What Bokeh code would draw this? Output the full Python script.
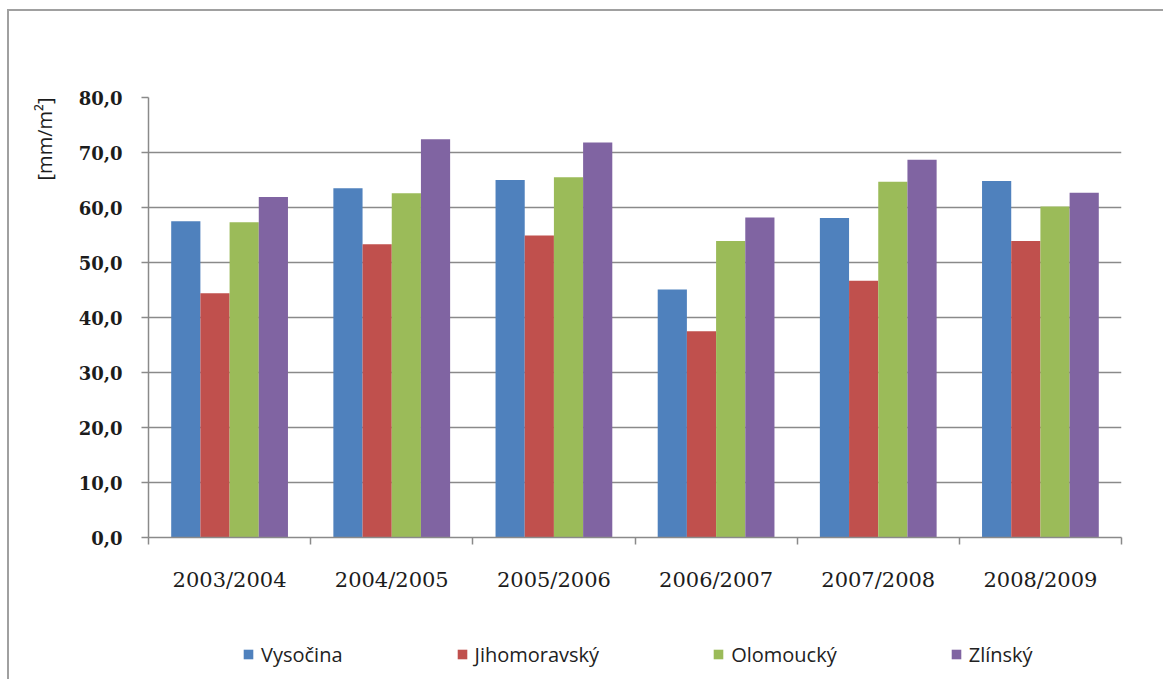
import numpy as np
from bokeh.plotting import figure
from bokeh.layouts import column
from bokeh.models import Range1d, FixedTicker, Legend, LegendItem, Title
from bokeh.embed import file_html
from bokeh.resources import INLINE

# Seasons and values per region [mm/m2]
seasons = ["2003/2004", "2004/2005", "2005/2006", "2006/2007", "2007/2008", "2008/2009"]
vysocina = [57.5, 63.5, 65.0, 45.1, 58.1, 64.8]
jihomoravsky = [44.4, 53.3, 54.9, 37.5, 46.7, 53.9]
olomoucky = [57.3, 62.6, 65.5, 53.9, 64.7, 60.2]
zlinsky = [61.9, 72.4, 71.8, 58.2, 68.7, 62.7]

series_names = ["Vysočina", "Jihomoravský", "Olomoucký", "Zlínský"]
series_values = [vysocina, jihomoravsky, olomoucky, zlinsky]
series_colors = ["#4F81BD", "#C0504D", "#9BBB59", "#8064A2"]

y_ticks = [0, 10, 20, 30, 40, 50, 60, 70, 80]
y_tick_labels = ["0,0", "10,0", "20,0", "30,0", "40,0", "50,0", "60,0", "70,0", "80,0"]
y_title = "[mm/m²]"

GRID = "#8a8a8a"
TEXT = "#1c1c1c"
BAR_W = 0.18

p = figure(
    width=1154, height=628,
    x_range=Range1d(0, len(seasons)), y_range=Range1d(0, 80),
    output_backend="svg", toolbar_location=None,
    min_border_left=139, min_border_right=42,
    min_border_top=86, min_border_bottom=102,
)
p.outline_line_color = None
p.background_fill_color = "white"
p.border_fill_color = "white"

# grouped bars
idx = np.arange(len(seasons))
for k, (vals, col) in enumerate(zip(series_values, series_colors)):
    xs = idx + 0.5 + (k - 1.5) * BAR_W
    p.vbar(x=xs, top=vals, width=BAR_W, bottom=0, fill_color=col, line_color=None)

# y axis
p.yaxis.ticker = FixedTicker(ticks=y_ticks)
p.yaxis.major_label_overrides = {t: s for t, s in zip(y_ticks, y_tick_labels)}
p.yaxis.minor_tick_line_color = None
p.yaxis.major_tick_in = 0
p.yaxis.major_tick_out = 7
p.yaxis.major_tick_line_color = GRID
p.yaxis.major_tick_line_width = 1.5
p.yaxis.axis_line_color = GRID
p.yaxis.axis_line_width = 1.5
p.yaxis.major_label_text_font = "DejaVu Serif"
p.yaxis.major_label_text_font_style = "bold"
p.yaxis.major_label_text_font_size = "18px"
p.yaxis.major_label_text_color = TEXT
p.yaxis.major_label_standoff = 19

# x axis: labels at group centres, tick marks at group boundaries
centres = [i + 0.5 for i in range(len(seasons))]
bounds = list(range(len(seasons) + 1))
p.xaxis.ticker = FixedTicker(ticks=centres, minor_ticks=bounds)
p.xaxis.major_label_overrides = {c: s for c, s in zip(centres, seasons)}
p.xaxis.major_tick_line_color = None
p.xaxis.major_tick_out = 0
p.xaxis.major_tick_in = 0
p.xaxis.minor_tick_in = 0
p.xaxis.minor_tick_out = 7
p.xaxis.minor_tick_line_color = GRID
p.xaxis.minor_tick_line_width = 1.5
p.xaxis.axis_line_color = GRID
p.xaxis.axis_line_width = 1.5
p.xaxis.major_label_text_font = "DejaVu Serif"
p.xaxis.major_label_text_font_size = "21px"
p.xaxis.major_label_text_color = TEXT
p.xaxis.major_label_standoff = 23

p.xgrid.grid_line_color = None
p.ygrid.grid_line_color = GRID
p.ygrid.grid_line_width = 1.5

# rotated unit label at the top of the value axis
p.add_layout(Title(
    text=y_title, align="right", standoff=35,
    text_font="Open Sans", text_font_size="20px",
    text_font_style="normal", text_color=TEXT,
), "left")

# legend strip underneath the chart; its renderers reuse the bar data
# but are hidden, so only the legend entries show
lg = figure(
    width=1154, height=40,
    x_range=Range1d(0, len(seasons)), y_range=Range1d(-2, -1),
    output_backend="svg", toolbar_location=None,
    x_axis_location=None, y_axis_location=None,
    min_border=0,
)
lg.outline_line_color = None
lg.grid.visible = False
items = []
for k, (name, vals, col) in enumerate(zip(series_names, series_values, series_colors)):
    xs = idx + 0.5 + (k - 1.5) * BAR_W
    r = lg.vbar(x=xs, top=vals, width=BAR_W, bottom=0, fill_color=col, line_color=None)
    r.visible = False
    items.append(LegendItem(label=name, renderers=[r]))

legend = Legend(
    items=items,
    orientation="horizontal",
    location=(94, 11),
    glyph_width=12, glyph_height=12,
    label_standoff=7, spacing=113,
    padding=0, margin=0,
    border_line_color=None, background_fill_alpha=0,
    inactive_fill_alpha=0,
    label_text_font="Open Sans",
    label_text_font_size="20px", label_text_color="#222222",
    label_height=28,
)
lg.add_layout(legend)

page = column(p, lg, spacing=0)
page.margin = (9, 0, 0, 7)
page.styles = {"border-left": "2px solid #a0a0a0", "border-top": "2px solid #a0a0a0"}

with open("out.html", "w") as f:
    f.write(file_html(page, INLINE))
